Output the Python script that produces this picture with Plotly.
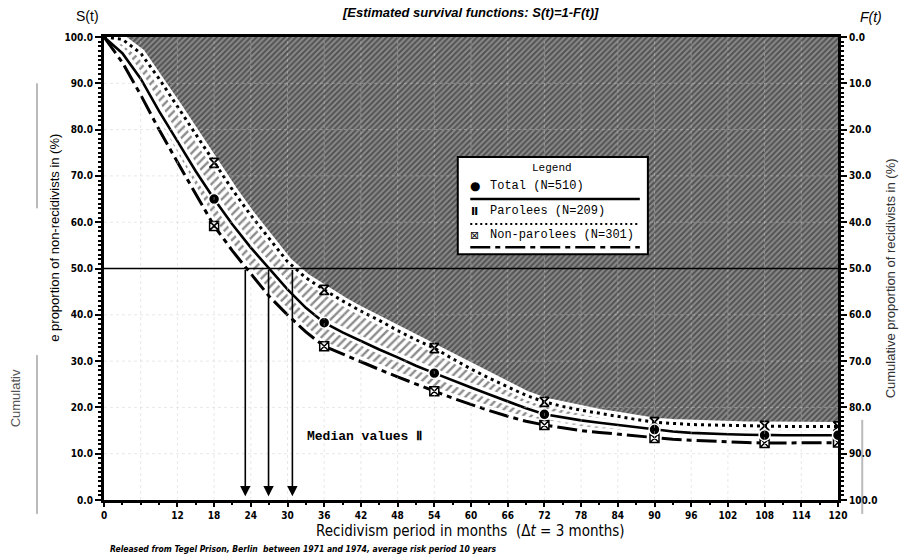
import plotly.graph_objects as go

# Recidivism period in months (step 3 months)
months = list(range(0, 121, 3))

# Estimated survival S(t) in % for each group
total = [100, 96.5, 91, 84, 77.5, 71, 65, 59.5, 54.5, 50, 45.5, 41.5, 38.3, 36.2, 34.3,
         32.5, 30.8, 29, 27.4, 25.8, 24.3, 22.8, 21.3, 19.8, 18.5, 17.8, 17.2, 16.7, 16.2,
         15.7, 15.2, 14.8, 14.5, 14.3, 14.2, 14.1, 14.0, 14.0, 14.0, 14.0, 14.0]
parolees = [100, 99.5, 96.5, 91, 85, 79, 72.8, 67, 61.5, 56.5, 51.5, 48, 45.4, 43, 40.8,
            38.8, 36.6, 34.6, 32.8, 30.5, 28.3, 26.3, 24.4, 22.6, 21.2, 20.2, 19.4, 18.7,
            18.1, 17.4, 16.8, 16.5, 16.3, 16.2, 16.1, 16.0, 16.0, 15.9, 15.9, 15.9, 15.9]
non_parolees = [100, 94.5, 87.5, 80, 73, 66, 59.2, 53.8, 48.8, 44, 40, 36.3, 33.2, 31.5, 29.8,
                28.2, 26.6, 25, 23.5, 22, 20.6, 19.3, 18.1, 17, 16.2, 15.6, 15.0, 14.6, 14.2,
                13.8, 13.4, 13.1, 12.9, 12.7, 12.5, 12.4, 12.3, 12.3, 12.4, 12.4, 12.4]

marker_months = [18, 36, 54, 72, 90, 108, 120]
median_months = [23.1, 26.9, 30.8]   # non-parolees, total, parolees

x_ticks = [0, 12, 18, 24, 30, 36, 42, 48, 54, 60, 66, 72, 78, 84, 90, 96, 102, 108, 114, 120]
y_ticks = list(range(0, 101, 10))

series_names = ["Total (N=510)", "Parolees (N=209)", "Non-parolees (N=301)"]

NARROW = "Liberation Sans Narrow, DejaVu Sans Condensed, Arial Narrow, sans-serif"
MONO = "Liberation Mono, DejaVu Sans Mono, monospace"
SANS = "Liberation Sans, Arial, sans-serif"

def at(series, ms):
    return [series[months.index(m)] for m in ms]

fig = go.Figure()

# upper boundary (S=100) for the recidivist area
fig.add_trace(go.Scatter(x=months, y=[100] * len(months), mode="lines",
                         line=dict(width=0), hoverinfo="skip", showlegend=False))
# recidivist area above the parolee curve
fig.add_trace(go.Scatter(x=months, y=parolees, mode="lines", line=dict(width=0),
                         fill="tonexty",
                         fillpattern=dict(shape="/", bgcolor="#8a8a8a", fgcolor="#1a1a1a",
                                          size=4, solidity=0.5),
                         hoverinfo="skip", showlegend=False))
# band between parolees and non-parolees
fig.add_trace(go.Scatter(x=months, y=non_parolees, mode="lines", line=dict(width=0),
                         fill="tonexty",
                         fillpattern=dict(shape="/", bgcolor="white", fgcolor="#1a1a1a",
                                          size=6, solidity=0.4),
                         hoverinfo="skip", showlegend=False))

# white halos around the curves
for s in (parolees, non_parolees, total):
    fig.add_trace(go.Scatter(x=months, y=s, mode="lines", line=dict(color="white", width=9),
                             hoverinfo="skip", showlegend=False))

# curves
fig.add_trace(go.Scatter(x=months, y=parolees, mode="lines", name=series_names[1],
                         line=dict(color="black", width=3, dash="3px,4px"), showlegend=False))
fig.add_trace(go.Scatter(x=months, y=non_parolees, mode="lines", name=series_names[2],
                         line=dict(color="black", width=3, dash="20px,5px,5px,5px"),
                         showlegend=False))
fig.add_trace(go.Scatter(x=months, y=total, mode="lines", name=series_names[0],
                         line=dict(color="black", width=2.6), showlegend=False))

# markers
fig.add_trace(go.Scatter(x=marker_months, y=at(parolees, marker_months), mode="markers",
                         marker=dict(symbol="hourglass", size=9, color="white",
                                     line=dict(color="black", width=1.8)),
                         showlegend=False))
fig.add_trace(go.Scatter(x=marker_months, y=at(non_parolees, marker_months), mode="markers",
                         marker=dict(symbol="square-x", size=9, color="white",
                                     line=dict(color="black", width=1.5)),
                         showlegend=False))
fig.add_trace(go.Scatter(x=marker_months, y=at(total, marker_months), mode="markers",
                         marker=dict(symbol="circle", size=11, color="black",
                                     line=dict(color="white", width=1.5)),
                         showlegend=False))

# secondary axis holder for F(t)
fig.add_trace(go.Scatter(x=[0], y=[0], yaxis="y2", mode="markers",
                         marker=dict(opacity=0), hoverinfo="skip", showlegend=False))

shapes = []
# light grid over the hatched area
for gx in range(6, 120, 6):
    shapes.append(dict(type="line", xref="x", yref="y", x0=gx, x1=gx, y0=0, y1=100,
                       layer="above", line=dict(color="rgba(205,205,205,0.45)", width=1, dash="dot")))
for gy in range(10, 100, 10):
    shapes.append(dict(type="line", xref="x", yref="y", x0=0, x1=120, y0=gy, y1=gy,
                       layer="above", line=dict(color="rgba(205,205,205,0.45)", width=1, dash="dot")))
# 50 % reference line
shapes.append(dict(type="line", xref="paper", yref="y", x0=0, x1=1, y0=50, y1=50,
                   layer="above", line=dict(color="black", width=1.3)))

# legend box
shapes.append(dict(type="rect", xref="paper", yref="paper", x0=0.482, x1=0.741, y0=0.531, y1=0.741,
                   layer="above", fillcolor="white", line=dict(color="black", width=2)))
shapes.append(dict(type="line", xref="paper", yref="paper", x0=0.499, x1=0.730, y0=0.650, y1=0.650,
                   layer="above", line=dict(color="black", width=2.5)))
shapes.append(dict(type="line", xref="paper", yref="paper", x0=0.499, x1=0.730, y0=0.596, y1=0.596,
                   layer="above", line=dict(color="black", width=2, dash="2px,3px")))
shapes.append(dict(type="line", xref="paper", yref="paper", x0=0.499, x1=0.730, y0=0.546, y1=0.546,
                   layer="above", line=dict(color="black", width=2.5, dash="20px,5px,5px,5px")))

# faint marks at the page edge
for x, y0, y1 in [(-0.0913, 0.313, -0.03), (-0.0913, 0.90, 0.63), (1.033, 0.173, -0.03)]:
    shapes.append(dict(type="line", xref="paper", yref="paper", x0=x, x1=x, y0=y0, y1=y1,
                       line=dict(color="rgba(130,130,130,0.55)", width=2)))

annotations = []
# median arrows
for m in median_months:
    annotations.append(dict(x=m, y=0.8, ax=m, ay=50, xref="x", yref="y", axref="x", ayref="y",
                            text="", showarrow=True, arrowhead=2, arrowsize=1.3,
                            arrowwidth=1.6, arrowcolor="black"))


def label(x, y, text, font, xanchor="center", textangle=0):
    return dict(x=x, y=y, xref="paper", yref="paper", text=text, showarrow=False,
                xanchor=xanchor, yanchor="middle", textangle=textangle, font=font)


annotations += [
    label(0.611, 0.717, "Legend", dict(family=MONO, size=11, color="black")),
    label(0.505, 0.678, "●", dict(family="DejaVu Sans", size=12, color="black")),
    label(0.505, 0.624, "Ⅱ", dict(family="DejaVu Sans", size=11, color="black", weight="bold")),
    label(0.505, 0.572, "⊠", dict(family="DejaVu Sans", size=11, color="black")),
    label(0.523, 0.678, series_names[0], dict(family=MONO, size=12, color="black"), "left"),
    label(0.523, 0.624, series_names[1], dict(family=MONO, size=12, color="black"), "left"),
    label(0.523, 0.572, series_names[2], dict(family=MONO, size=12, color="black"), "left"),
    label(0.274, 0.138, "Median values Ⅱ",
          dict(family=MONO, size=13, color="black", weight="bold"), "left"),
    label(0.499, 1.052, "[Estimated survival functions: S(t)=1-F(t)]",
          dict(family=SANS, size=13, color="black", weight="bold", style="italic")),
    label(-0.022, 1.045, "S(t)", dict(family=SANS, size=14, color="black")),
    label(1.045, 1.043, "F(t)", dict(family=SANS, size=14, color="black", style="italic")),
    label(0.499, -0.066, "Recidivism period in months  (Δ<i>t</i> = 3 months)",
          dict(family=NARROW, size=15, color="black")),
    label(0.005, -0.106,
          "Released from Tegel Prison, Berlin  between 1971 and 1974, average risk period 10 years",
          dict(family=NARROW, size=8.5, color="black", weight="bold", style="italic"), "left"),
    label(-0.067, 0.566, "e proportion of non-recidivists in (%)",
          dict(family=SANS, size=13, color="black"), textangle=-90),
    label(-0.121, 0.22, "Cumulativ", dict(family=SANS, size=13, color="#555"), textangle=-90),
    label(1.071, 0.479, "Cumulative proportion of recidivists in (%)",
          dict(family=SANS, size=13, color="#333"), textangle=-90),
]

tickfont = dict(family=NARROW, size=10, color="black", weight="bold")

fig.update_layout(
    width=901, height=558,
    margin=dict(l=104, r=63, t=37, b=58),
    paper_bgcolor="white", plot_bgcolor="white",
    showlegend=False,
    xaxis=dict(range=[0, 120], tickvals=x_ticks, ticktext=[str(v) for v in x_ticks],
               showgrid=False, zeroline=False, showline=True, linecolor="black", linewidth=3,
               mirror=True, ticks="outside", ticklen=4, tickwidth=1.5, tickcolor="black",
               minor=dict(dtick=3, ticks="outside", ticklen=2, tickcolor="black"),
               tickfont=tickfont),
    yaxis=dict(range=[0, 100], tickvals=y_ticks, ticktext=[f"{v:.1f}" for v in y_ticks],
               showgrid=False, zeroline=False, showline=True, linecolor="black", linewidth=3,
               ticks="outside", ticklen=6, tickwidth=1.5, tickcolor="black",
               minor=dict(dtick=1, ticks="outside", ticklen=3, tickcolor="black"),
               tickfont=tickfont),
    yaxis2=dict(range=[100, 0], overlaying="y", side="right", tickvals=y_ticks,
                ticktext=[f"{v:.1f}" for v in y_ticks], showgrid=False, zeroline=False,
                showline=True, linecolor="black", linewidth=3, ticks="outside", ticklen=6,
                tickwidth=1.5, tickcolor="black",
                minor=dict(dtick=1, ticks="outside", ticklen=3, tickcolor="black"),
                tickfont=tickfont),
    shapes=shapes,
    annotations=annotations,
)

fig.write_html("out.html")
